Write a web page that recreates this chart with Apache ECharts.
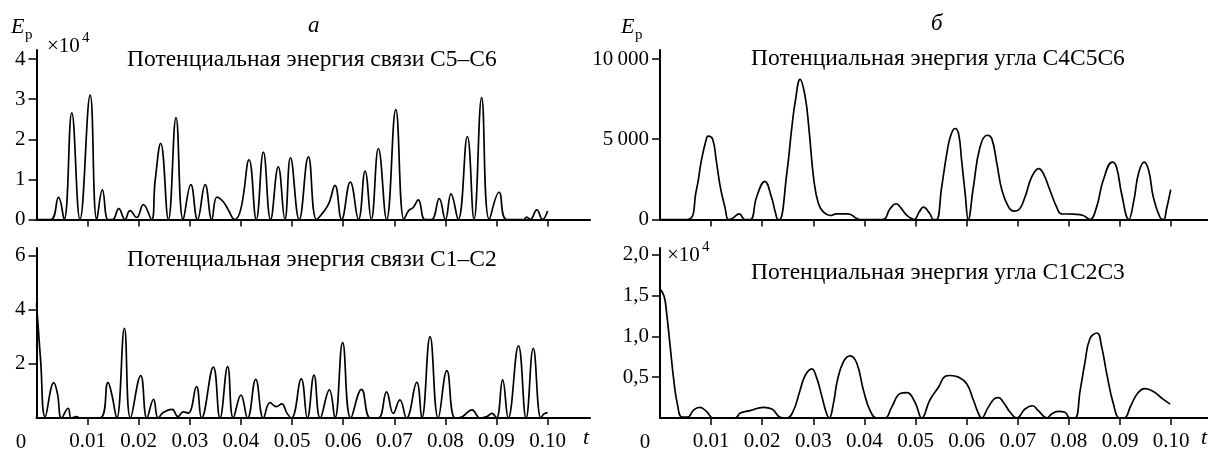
<!DOCTYPE html>
<html>
<head>
<meta charset="utf-8">
<script src="https://cdn.jsdelivr.net/npm/echarts@6/dist/echarts.min.js"></script>
<style>
  html, body { margin: 0; padding: 0; background: #fff; }
  #chart { width: 1208px; height: 452px; }
</style>
</head>
<body>
<div id="chart"></div>
<script>
// время t и энергии
const xTicks = [0.01, 0.02, 0.03, 0.04, 0.05, 0.06, 0.07, 0.08, 0.09, 0.10];

// а, верх: связь C5–C6, ×10^4
const bondC5C6 = [
  [0, 0], [0.0028, 0], [0.0043, 0.55], [0.0054, 0], [0.0069, 2.66], [0.0085, 0],
  [0.0105, 3.1], [0.0118, 0], [0.0129, 0.74], [0.014, 0], [0.0149, 0], [0.0161, 0.27],
  [0.0173, 0], [0.0183, 0.22], [0.0196, 0.05], [0.0209, 0.37], [0.0225, 0], [0.0232, 0.95],
  [0.0243, 1.9], [0.0258, 0], [0.0273, 2.54], [0.0287, 0], [0.0302, 0.87], [0.0315, 0],
  [0.033, 0.87], [0.0343, 0], [0.0353, 0.56], [0.0365, 0.45], [0.0374, 0.27], [0.0388, 0],
  [0.04, 0.27], [0.0416, 1.49], [0.043, 0], [0.0444, 1.68], [0.0458, 0], [0.0473, 1.31],
  [0.0486, 0], [0.0497, 1.54], [0.0514, 0], [0.0532, 1.56], [0.0548, 0], [0.0561, 0.18],
  [0.0572, 0.4], [0.0584, 0.85], [0.0597, 0], [0.0614, 0.93], [0.063, 0], [0.0643, 1.21],
  [0.0655, 0], [0.0669, 1.77], [0.0685, 0], [0.0703, 2.74], [0.0719, 0], [0.0728, 0.22],
  [0.0737, 0.3], [0.0747, 0.49], [0.076, 0], [0.0773, 0], [0.0788, 0.52], [0.08, 0],
  [0.0811, 0.64], [0.0825, 0], [0.0843, 2.07], [0.0856, 0], [0.0871, 3.04], [0.0886, 0],
  [0.0905, 0.68], [0.092, 0], [0.0953, 0], [0.0959, 0.06], [0.0966, 0], [0.0979, 0.24],
  [0.099, 0], [0.1, 0.21]
];

// а, низ: связь C1–C2
const bondC1C2 = [
  [0, 4.25], [0.0008, 2.15], [0.0017, 0.05], [0.0034, 1.31], [0.0041, 0.9], [0.0049, 0],
  [0.0062, 0.36], [0.0068, 0], [0.0079, 0.05], [0.0085, 0], [0.0124, 0], [0.014, 1.31],
  [0.0147, 0.9], [0.0157, 0], [0.0172, 3.32], [0.0184, 0], [0.0204, 1.57], [0.0216, 0],
  [0.0229, 0.69], [0.0238, 0], [0.0248, 0.2], [0.0265, 0.32], [0.0277, 0.05], [0.0287, 0.23],
  [0.0297, 0.18], [0.0313, 1.16], [0.0323, 0], [0.0346, 1.88], [0.0359, 0], [0.0374, 1.9],
  [0.0385, 0], [0.04, 0.85], [0.0413, 0], [0.0429, 1.43], [0.0444, 0], [0.0457, 0.57],
  [0.0469, 0.42], [0.048, 0.52], [0.049, 0.18], [0.0499, 0], [0.0518, 1.45], [0.053, 0],
  [0.0543, 1.59], [0.0555, 0], [0.0573, 1.04], [0.0584, 0], [0.0599, 2.79], [0.0615, 0],
  [0.0636, 1.06], [0.0653, 0], [0.0669, 0], [0.0685, 0.97], [0.0698, 0.17], [0.0711, 0.67],
  [0.0724, 0], [0.0744, 1.32], [0.0754, 0], [0.077, 3.01], [0.0786, 0], [0.0803, 1.75],
  [0.0819, 0], [0.0833, 0.05], [0.0852, 0.3], [0.0868, 0], [0.0881, 0.05], [0.0891, 0.17],
  [0.09, 0], [0.0912, 1.41], [0.0923, 0], [0.0943, 2.67], [0.0958, 0], [0.0972, 2.58],
  [0.0987, 0], [0.0993, 0.15], [0.1, 0.2]
];

// б, верх: угол C4C5C6
const angleC4C5C6 = [
  [0, 0], [0.0054, 0], [0.0071, 1810], [0.0081, 3690], [0.009, 4940], [0.0094, 5190],
  [0.0103, 5000], [0.011, 3690], [0.0118, 2020], [0.0127, 770], [0.0134, 0], [0.0141, 50],
  [0.0155, 355], [0.0166, 0], [0.0177, 0], [0.0189, 1400], [0.0205, 2375], [0.0218, 1400],
  [0.0226, 400], [0.0231, 0], [0.0234, 0], [0.0248, 2860], [0.0258, 5770], [0.0265, 7440],
  [0.0274, 8730], [0.0284, 7640], [0.0291, 5770], [0.0301, 2440], [0.031, 980], [0.032, 460],
  [0.0333, 250], [0.0345, 355], [0.0368, 355], [0.0385, 60], [0.039, 0], [0.0436, 0],
  [0.045, 670], [0.0462, 980], [0.047, 770], [0.0483, 250], [0.0497, 0], [0.0507, 460],
  [0.0515, 770], [0.0528, 355], [0.0535, 0], [0.0541, 0], [0.0551, 2020], [0.0561, 4100],
  [0.0568, 5150], [0.0577, 5670], [0.0584, 5360], [0.059, 3690], [0.0597, 1600], [0.0603, 0],
  [0.0613, 2020], [0.0626, 4520], [0.064, 5250], [0.0649, 5040], [0.0659, 3480], [0.0669, 1810],
  [0.0682, 770], [0.0692, 520], [0.0701, 580], [0.0714, 1400], [0.0727, 2640], [0.0741, 3170],
  [0.075, 2860], [0.0763, 1810], [0.0776, 770], [0.0785, 355], [0.0808, 330], [0.0828, 250],
  [0.0841, 0], [0.0854, 770], [0.0867, 2440], [0.0885, 3580], [0.0893, 3270], [0.0903, 1600],
  [0.0917, 0], [0.0927, 1190], [0.0936, 2860], [0.0947, 3580], [0.0956, 3060], [0.0965, 1400],
  [0.0978, 140], [0.0985, 0], [0.0991, 670], [0.0999, 1860]
];

// б, низ: угол C1C2C3, ×10^4
const angleC1C2C3 = [
  [0, 1.58], [0.0008, 1.49], [0.0013, 1.28], [0.002, 0.87], [0.0027, 0.46], [0.0034, 0.17],
  [0.0043, 0.01], [0.0054, 0.01], [0.0066, 0.1], [0.0078, 0.13], [0.0091, 0.08], [0.0104, 0],
  [0.0147, 0], [0.0157, 0.06], [0.0176, 0.09], [0.0202, 0.13], [0.0219, 0.11], [0.0235, 0.01],
  [0.0248, 0], [0.0261, 0.09], [0.0274, 0.34], [0.0284, 0.52], [0.0297, 0.6], [0.0306, 0.5],
  [0.0316, 0.28], [0.0325, 0.07], [0.0331, 0], [0.0339, 0.17], [0.0347, 0.46], [0.0359, 0.69],
  [0.0372, 0.76], [0.0385, 0.67], [0.0398, 0.34], [0.0411, 0.09], [0.0424, 0], [0.044, 0],
  [0.0453, 0.13], [0.047, 0.3], [0.0483, 0.31], [0.0499, 0.19], [0.0512, 0], [0.0528, 0.22],
  [0.0545, 0.38], [0.0558, 0.51], [0.0568, 0.52], [0.0584, 0.5], [0.06, 0.42], [0.0613, 0.22],
  [0.0622, 0.07], [0.0629, 0], [0.0642, 0.13], [0.0655, 0.24], [0.0662, 0.25], [0.0672, 0.19],
  [0.0685, 0.07], [0.0698, 0], [0.0714, 0.11], [0.0729, 0.15], [0.074, 0.09], [0.0757, 0],
  [0.0766, 0.05], [0.0779, 0.08], [0.0792, 0.07], [0.0802, 0], [0.0812, 0], [0.0822, 0.34],
  [0.0831, 0.67], [0.0841, 0.97], [0.0855, 1.04], [0.0864, 0.87], [0.0874, 0.54], [0.0887, 0.17],
  [0.0899, 0], [0.0908, 0], [0.0921, 0.15], [0.0934, 0.3], [0.0949, 0.36], [0.0966, 0.32],
  [0.0982, 0.24], [0.0998, 0.17]
];

const yTicksC5C6 = [0, 1, 2, 3, 4];
const yTicksC1C2 = [2, 4, 6];
const yTicksC4C5C6 = [0, 5000, 10000];
const yTicksC1C2C3 = [0.5, 1.0, 1.5, 2.0];

const titles = [
  'Потенциальная энергия связи C5–C6',
  'Потенциальная энергия связи C1–C2',
  'Потенциальная энергия угла C4C5C6',
  'Потенциальная энергия угла C1C2C3'
];

const FONT = '"Liberation Serif", "Times New Roman", serif';
const tickFont = 21;

const chart = echarts.init(document.getElementById('chart'));

function xAxis(grid, max, labels) {
  return {
    type: 'value', gridIndex: grid, min: 0, max: max,
    axisLine: { lineStyle: { color: '#000', width: 2 } },
    axisTick: { customValues: xTicks, length: 7, lineStyle: { color: '#000', width: 1.5 } },
    axisLabel: {
      show: labels, customValues: xTicks, margin: 13,
      color: '#000', fontFamily: FONT, fontSize: tickFont,
      formatter: v => v.toFixed(2)
    },
    splitLine: { show: false }
  };
}

function yAxis(grid, max, ticks, fmt) {
  return {
    type: 'value', gridIndex: grid, min: 0, max: max,
    axisLine: { show: true, lineStyle: { color: '#000', width: 2 } },
    axisTick: { show: true, customValues: ticks, length: 8, lineStyle: { color: '#000', width: 1.5 } },
    axisLabel: {
      customValues: ticks, margin: 11,
      color: '#000', fontFamily: FONT, fontSize: tickFont,
      formatter: fmt
    },
    splitLine: { show: false }
  };
}

function line(i, data) {
  return {
    type: 'line', xAxisIndex: i, yAxisIndex: i, data: data,
    smooth: 0.45, symbol: 'none',
    lineStyle: { color: '#000', width: 1.7 },
    silent: true, animation: false
  };
}

function txt(x, y, text, size, extra) {
  return {
    type: 'text', x: x, y: y, silent: true,
    style: Object.assign({
      text: text, fill: '#000', font: size + 'px ' + FONT,
      align: 'left', verticalAlign: 'middle'
    }, extra || {})
  };
}

const option = {
  animation: false,
  grid: [
    { left: 36.5, top: 50, width: 553.5, height: 169.5 },
    { left: 36.5, top: 248, width: 553.5, height: 170.5 },
    { left: 660, top: 50, width: 548, height: 169.5 },
    { left: 660, top: 248, width: 548, height: 170 }
  ],
  xAxis: [
    xAxis(0, 0.1083, false),
    xAxis(1, 0.1083, true),
    xAxis(2, 0.1072, false),
    xAxis(3, 0.1072, true)
  ],
  yAxis: [
    yAxis(0, 4.227, yTicksC5C6, v => String(v)),
    yAxis(1, 6.29, yTicksC1C2, v => String(v)),
    yAxis(2, 10560, yTicksC4C5C6, v => v >= 1000 ? String(v).replace(/(\d)(?=(\d{3})$)/, '$1\u2009') : String(v)),
    yAxis(3, 2.08, yTicksC1C2C3, v => v.toFixed(1).replace('.', ','))
  ],
  series: [
    line(0, bondC5C6),
    line(1, bondC1C2),
    line(2, angleC4C5C6),
    line(3, angleC1C2C3)
  ],
  graphic: [
    // подписи осей
    txt(11, 27, 'E', 22, { font: 'italic 22px ' + FONT }),
    txt(25, 35, 'p', 15),
    txt(621, 27, 'E', 22, { font: 'italic 22px ' + FONT }),
    txt(635, 35, 'p', 15),
    txt(47, 46, '×10', 21),
    txt(82, 38, '4', 15),
    txt(667, 255, '×10', 21),
    txt(702, 247, '4', 15),
    txt(308, 26, 'а', 23, { font: 'italic 23px ' + FONT }),
    txt(931, 24, 'б', 23, { font: 'italic 23px ' + FONT }),
    // заголовки панелей
    txt(127, 60, titles[0], 23.5),
    txt(127, 260, titles[1], 23.5),
    txt(751, 59, titles[2], 23.5),
    txt(751, 273, titles[3], 23.5),
    // ноль и t по оси времени
    txt(21, 442, '0', tickFont, { align: 'center' }),
    txt(645, 442, '0', tickFont, { align: 'center' }),
    txt(583, 438, 't', 22, { font: 'italic 22px ' + FONT }),
    txt(1201, 438, 't', 22, { font: 'italic 22px ' + FONT })
  ]
};

chart.setOption(option);
</script>
</body>
</html>
